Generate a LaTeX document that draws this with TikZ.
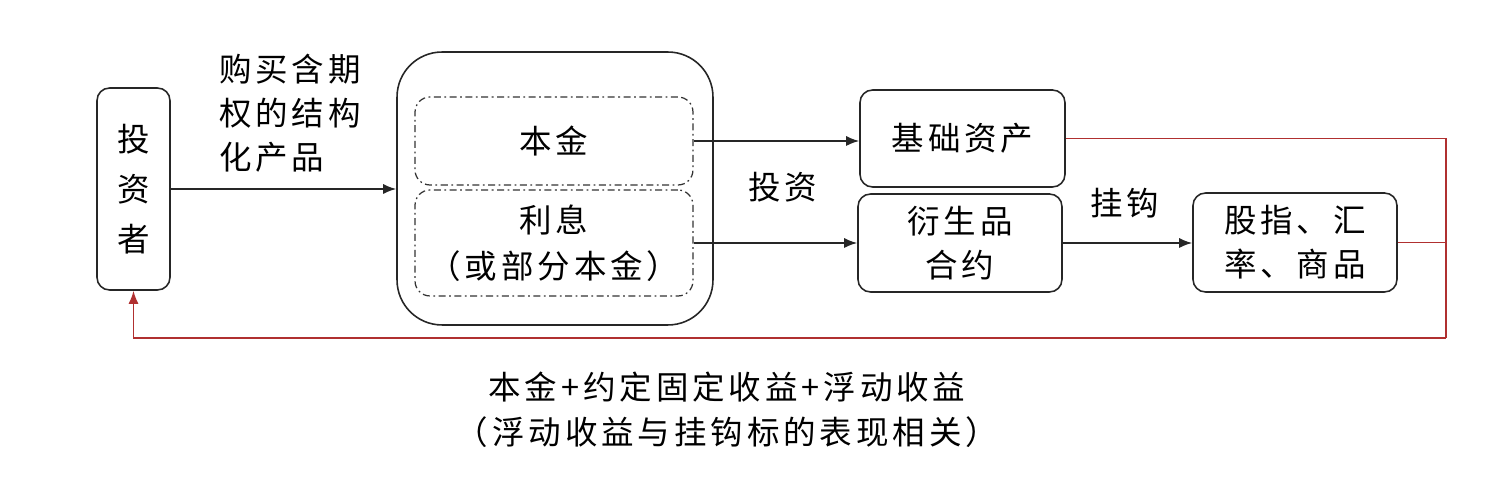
\documentclass[tikz,border=0pt]{standalone}
\usepackage{fontspec}
\setmainfont{Noto Sans CJK SC}[LetterSpace=12]
\usetikzlibrary{arrows.meta,positioning}
\definecolor{LinkRed}{RGB}{176,48,48}
\tikzset{
  roundbox/.style={draw=black!85,rounded corners=2.5mm,line width=0.9pt,
    align=center,font=\fontsize{18.5}{25}\selectfont},
  partbox/.style={draw=black!80,rounded corners=3mm,line width=0.7pt,
    dash pattern=on 4pt off 2pt on 1pt off 2pt,minimum width=5.56cm,
    align=center,font=\fontsize{18.5}{26}\selectfont},
  flowlabel/.style={align=left,font=\fontsize{18.5}{25}\selectfont},
  flowarrow/.style={-{Latex[length=2.6mm,width=2mm]},line width=0.9pt,draw=black!85},
  backarrow/.style={-{Latex[length=2.6mm,width=2mm]},line width=0.9pt,draw=LinkRed},
}

\begin{document}
\begin{tikzpicture}[x=0.02cm,y=-0.02cm]
  \useasboundingbox (0,0) rectangle (1498,482);

  % investor and product
  \node[roundbox,minimum width=1.46cm,minimum height=4.04cm,
        font=\fontsize{18.5}{28.5}\selectfont] (inv) at (133.5,189) {投\\资\\者};
  \node[draw=black!85,line width=0.9pt,rounded corners=9mm,
        minimum width=6.32cm,minimum height=5.46cm] (prod) at (555,188.5) {};
  \node[partbox,minimum height=1.76cm] (capital) at (554,141) {本金};
  \node[partbox,minimum height=2.12cm] (interest) at (554,243) {利息\\（或部分本金）};

  % targets
  \node[roundbox,minimum width=4.1cm,minimum height=1.94cm] (base) at (962.5,138.5) {基础资产};
  \node[roundbox,minimum width=4.08cm,minimum height=1.96cm] (deriv) at (960,243) {衍生品\\合约};
  \node[roundbox,minimum width=4.08cm,minimum height=1.98cm] (index) at (1295,242.5) {股指、汇\\率、商品};

  % labels
  \node[flowlabel] (buy) at (290,113) {购买含期\\权的结构\\化产品};
  \node[flowlabel] (invest) at (783,187) {投资};
  \node[flowlabel] (hook) at (1125,203) {挂钩};
  \node[flowlabel,align=center,font=\fontsize{18.5}{25.5}\selectfont] (payoff) at (727,410)
    {本金+约定固定收益+浮动收益\\（浮动收益与挂钩标的表现相关）};

  \draw[flowarrow] (inv.east) -- (inv.east -| prod.west);
  \draw[flowarrow] (capital.east) -- (capital.east -| base.west);
  \draw[flowarrow] (interest.east) -- (interest.east -| deriv.west);
  \draw[flowarrow] (deriv.east) -- (deriv.east -| index.west);

  % payoff back to investor
  \coordinate (rt) at (1446,139);
  \coordinate (rb) at (1446,338);
  \draw[LinkRed,line width=0.9pt] (base.east) -- (base.east -| rt) -- (rb);
  \draw[LinkRed,line width=0.9pt] (index.east) -- (index.east -| rt);
  \draw[backarrow] (rb) -| (inv.south);
\end{tikzpicture}
\end{document}
